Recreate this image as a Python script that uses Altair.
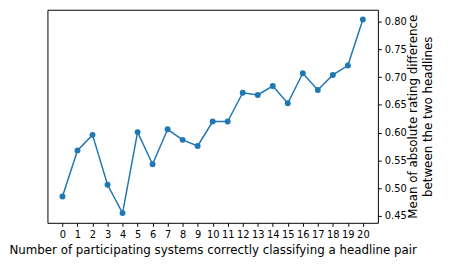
import altair as alt
import pandas as pd

systems = list(range(21))
mean_diff = [0.485, 0.568, 0.596, 0.506, 0.455, 0.601, 0.543, 0.606, 0.587, 0.576,
             0.620, 0.620, 0.672, 0.668, 0.684, 0.653, 0.707, 0.677, 0.704, 0.721, 0.804]
y_ticks = [0.45, 0.50, 0.55, 0.60, 0.65, 0.70, 0.75, 0.80]

df = pd.DataFrame({"n": systems, "v": mean_diff})

chart = alt.Chart(df).mark_line(
    color="#1f77b4", strokeWidth=1.5,
    point=alt.OverlayMarkDef(color="#1f77b4", size=36, filled=True, opacity=1),
).encode(
    x=alt.X("n:Q", scale=alt.Scale(domain=[-1, 21], nice=False, zero=False),
            axis=alt.Axis(values=systems, format="d", labelAngle=0,
                          title="Number of participating systems correctly classifying a headline pair",
                          titlePadding=6)),
    y=alt.Y("v:Q", scale=alt.Scale(domain=[0.4375, 0.8215], nice=False, zero=False),
            axis=alt.Axis(orient="right", values=y_ticks, format=".2f",
                          title=["Mean of absolute rating difference", "between the two headlines"],
                          titleAngle=270, titleX=39.5, titleY=108, titleBaseline="alphabetic",
                          titleAlign="center", titleLineHeight=14.4)),
).properties(
    width=335, height=216,
    autosize=alt.AutoSizeParams(type="none"),
    padding={"left": 40, "top": 0, "right": 66, "bottom": 41},
).configure_view(
    stroke="black", strokeWidth=1,
).configure_axis(
    domain=False, grid=False, ticks=True, tickSize=3.5, tickColor="black", tickWidth=1,
    labelFont="DejaVu Sans", labelFontSize=10, labelColor="black", labelPadding=3,
    titleFont="DejaVu Sans", titleFontSize=12, titleColor="black", titleFontWeight="normal",
)

chart.save("out.html", embed_options={"renderer": "svg", "actions": False})
